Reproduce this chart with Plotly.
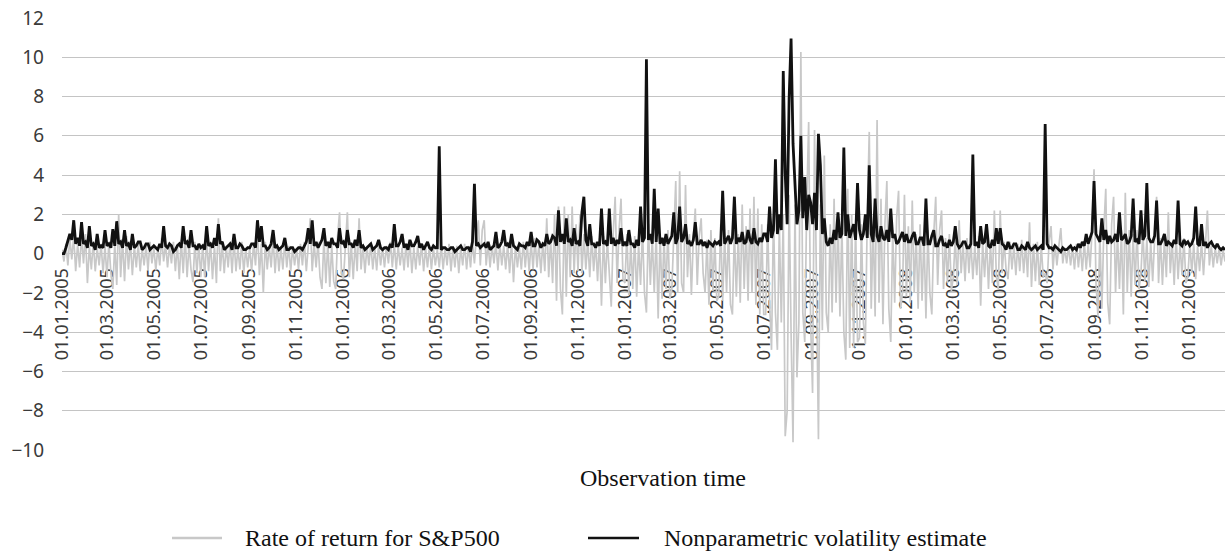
import plotly.graph_objects as go
import pandas as pd

tick_labels = ["01.01.2005", "01.03.2005", "01.05.2005", "01.07.2005", "01.09.2005", "01.11.2005",
               "01.01.2006", "01.03.2006", "01.05.2006", "01.07.2006", "01.09.2006", "01.11.2006",
               "01.01.2007", "01.03.2007", "01.05.2007", "01.07.2007", "01.09.2007", "01.11.2007",
               "01.01.2008", "01.03.2008", "01.05.2008", "01.07.2008", "01.09.2008", "01.11.2008",
               "01.01.2009"]

series_names = ["Rate of return for S&P500", "Nonparametric volatility estimate"]
x_title = "Observation time"

start_date = "2005-01-01"
end_date = "2009-02-17"

returns_sp500 = [
    0.2, -0.4, 0.5, -0.6, 0.8, -0.3, 0.9, -0.9, 0.5, -0.7, 0.9, -0.5, 1.0, -1.5, 0.4, -0.8, 0.6, -0.9, 0.3, -0.6, 0.5, -1.0, 0.4, -1.2,
    0.6, -1.0, -1.8, 0.5, -1.6, 2.0, -1.2, 0.7, -1.4, 0.9, -0.8, 0.6, -1.1, 0.4, -0.7, 0.5, -0.9, 0.3, -0.6, 0.4, -0.85, 0.6, -0.5, 0.3,
    -0.85, 0.3, -0.6, 0.8, -0.4, 0.5, -0.7, 0.4, -0.5, 0.6, -0.9, 0.5, -1.3, 0.7, -1.0, 0.9, -1.2, 0.5, -0.8, -1.45, 0.6, -1.0, 0.5, -1.2,
    0.5, -1.2, 0.8, -0.9, 0.6, -1.3, 0.4, -1.5, 1.8, -0.9, 0.5, -1.0, 0.4, -0.7, 0.6, -1.0, 0.7, -0.9, 0.3, -0.8, 0.6, -1.0, 0.3, -0.7,
    0.3, -0.9, 0.5, -0.6, 1.2, -1.1, 0.5, -2.0, 0.6, -0.8, 0.4, -0.7, 0.8, -1.0, 0.5, -0.9, 0.3, -0.8, 0.6, -0.7, 0.4, -0.9, 0.3, -0.6,
    0.3, -0.8, 0.5, -0.6, 0.6, -0.9, 0.4, 1.8, -0.9, 0.5, -0.7, 0.6, -1.2, -1.8, 0.8, -1.5, 0.6, -1.7, 0.4, -1.4, -1.8, 0.9, 2.1, -1.0,
    -1.3, 0.6, 2.1, -1.2, 0.5, -1.3, 0.6, -0.9, 1.8, -0.8, 0.4, -1.0, 0.4, -0.6, 0.5, -0.8, 0.3, -0.85, 0.5, -0.6, 0.3, -0.7, 0.4, -0.5,
    0.6, -0.7, 0.5, -0.8, 0.4, -0.6, 0.3, -0.85, 0.5, -0.7, 0.6, -1.0, 0.3, -0.8, 0.4, -0.6, 0.5, -0.9, 0.3, -0.7, 0.4, -0.8, 0.3, -0.6,
    0.2, -0.7, 0.4, -0.8, 0.3, -0.6, 0.5, -0.9, 0.3, -0.7, 0.4, -1.0, 0.3, -0.6, 0.5, -0.8, 0.4, -0.7, 0.6, -0.5, 0.9, 1.7, -0.6, 1.2,
    1.7, -0.6, 0.5, -0.7, 0.4, -0.5, 0.6, -0.85, 0.5, -0.6, 0.4, -0.8, 0.5, -1.0, 0.6, -1.45, 0.4, -0.7, 0.3, -0.8, 0.6, -0.7, 0.5, -0.9,
    0.6, -0.8, 0.8, -0.7, 0.5, -1.0, 0.6, -0.9, 1.8, -1.2, 0.7, -1.5, 2.0, -2.4, 2.4, -1.8, -3.1, 2.4, -2.2, 2.0, -1.2, 2.4, -1.0, 1.5,
    -0.9, 2.0, -1.0, 1.0, -0.8, 0.7, -1.2, 0.9, -0.9, 0.6, -1.4, 0.8, -2.65, 0.9, -1.5, 0.7, -1.2, -2.7, 1.0, 2.9, -1.5, 1.2, 2.8, -1.3,
    -1.5, 1.0, -2.1, 0.6, -1.8, 0.9, -2.2, 0.5, -1.6, 1.2, -2.0, -3.0, 1.5, -1.6, 0.8, -2.0, 1.1, -3.3, 1.0, -2.3, 0.8, -1.8, 1.2, -2.3,
    -1.8, 1.2, 3.7, -2.0, 4.2, -1.5, -2.0, 3.5, -1.2, 1.0, -2.1, 0.8, 2.3, -1.6, 0.9, 1.8, -1.0, -2.0, 0.7, -2.6, 1.2, -1.9, 0.8, -2.4,
    -2.2, 1.5, -2.4, 0.9, -2.0, 1.2, -2.6, -3.1, 1.2, -2.2, 1.0, -2.5, 2.5, -1.8, 1.4, -2.4, 2.3, -2.0, 2.9, -2.6, 2.3, -3.1, 1.5, -3.1,
    -3.1, 1.5, -2.5, -4.9, 2.0, -3.0, -4.9, 1.5, -3.5, 2.0, -9.3, -8.0, 3.0, -4.0, -9.6, 2.5, -6.3, -3.5, 10.27, -3.0, -4.5, 2.5, 6.7, -3.5,
    -7.1, 6.3, -3.0, -9.45, 2.5, -3.9, 5.0, -3.0, -4.0, 1.5, -3.0, 2.8, -2.5, 1.8, -3.2, 1.5, -4.0, -5.4, 3.3, -4.8, 2.0, -4.8, 1.5, -4.5,
    -4.3, 1.5, -3.5, -4.6, 2.0, 6.2, -2.8, 1.5, -3.2, 6.8, -2.5, 2.8, -3.6, 1.5, 3.7, -2.8, -4.5, 1.2, -2.5, 1.8, 3.2, -2.8, -2.0, 3.0,
    -2.2, 1.4, -2.5, 2.7, -2.0, 1.0, -2.8, 1.5, -2.4, 1.0, -3.3, 1.2, -2.0, -3.1, 1.0, 2.9, -1.6, 1.2, 2.2, -1.8, 0.8, -1.5, 1.0, -1.9,
    -1.2, 0.8, -1.6, 1.7, -1.0, 0.5, -1.4, 0.8, -1.0, 0.6, -1.3, 0.4, -1.1, 0.9, -2.65, 0.6, -1.2, 0.8, -1.8, 0.5, -1.5, 2.2, -1.1, -1.8,
    2.2, -1.0, 0.6, -0.8, -1.3, 0.6, -0.8, 0.4, -1.1, 0.5, -0.9, 0.7, -1.0, 0.5, -1.2, 1.6, -1.7, 0.5, -1.4, 0.6, -1.6, 0.4, -1.2, -1.0,
    -1.5, 0.6, 1.4, -0.8, 0.5, -0.6, 0.4, 1.3, -0.5, 0.3, -0.5, 0.4, -0.6, 0.3, -0.8, 0.5, -0.7, 0.4, -0.9, 0.6, -0.8, 0.5, -0.7, 1.2,
    4.3, -1.5, -3.2, 1.0, -2.8, 1.2, 3.3, -2.5, -3.6, 1.5, 2.9, -2.0, 1.0, -1.8, 1.2, -3.1, 3.1, -2.0, 1.2, -2.2, 1.0, -1.6, 1.2, -1.8,
    -1.0, 1.2, -1.4, 0.8, -1.7, 0.6, -1.4, 1.0, 2.9, -1.5, 0.8, -1.6, 0.7, -1.2, 2.1, -1.0, 0.6, -1.6, 0.9, -1.3, 0.5, -1.1, 0.8, -1.5,
    -1.2, 0.6, -1.0, 0.5, -1.3, 0.4, -0.9, 0.6, -1.1, 0.5, 2.2, -0.6, 0.4, -0.7, 0.3, -0.5, 0.3, -0.6, 0.2, -0.4,
]

volatility = [
    0.0, 0.0, 0.3, 0.6, 1.0, 0.7, 1.7, 0.5, 0.8, 0.4, 1.6, 0.5, 0.6, 0.3, 1.4, 0.4, 0.5, 0.2, 1.0, 0.3, 0.4, 0.3, 1.2, 0.4,
    0.5, 0.3, 1.25, 0.4, 1.65, 0.5, 0.6, 0.3, 1.2, 0.4, 0.5, 0.2, 1.0, 0.3, 0.4, 0.6, 0.6, 0.2, 0.3, 0.5, 0.5, 0.2, 0.3, 0.4,
    0.3, 0.2, 0.5, 0.3, 1.4, 0.4, 0.3, 0.5, 0.4, 0.1, 0.2, 0.4, 0.5, 0.3, 1.4, 0.5, 0.6, 0.3, 1.2, 0.4, 0.4, 0.2, 0.5, 0.3,
    0.4, 0.2, 1.4, 0.4, 0.5, 0.3, 0.8, 0.4, 1.5, 0.5, 0.6, 0.2, 0.3, 0.4, 0.5, 0.2, 1.0, 0.3, 0.3, 0.5, 0.4, 0.2, 0.2, 0.3,
    0.3, 0.5, 0.5, 0.3, 1.7, 0.6, 1.4, 0.4, 0.4, 0.2, 0.3, 0.5, 1.2, 0.3, 0.4, 0.2, 0.3, 0.4, 0.8, 0.2, 0.2, 0.3, 0.3, 0.1,
    0.2, 0.3, 0.3, 0.2, 0.4, 0.6, 1.3, 0.5, 1.7, 0.4, 0.6, 0.3, 0.5, 0.7, 1.3, 0.4, 0.6, 0.3, 0.8, 0.5, 0.5, 0.3, 1.3, 0.5,
    0.6, 0.3, 1.2, 0.5, 0.5, 0.3, 0.7, 0.4, 1.2, 0.3, 0.4, 0.2, 0.3, 0.4, 0.5, 0.2, 0.3, 0.4, 0.7, 0.3, 0.2, 0.3, 0.3, 0.2,
    0.5, 0.3, 1.5, 0.4, 0.4, 0.6, 1.0, 0.3, 0.5, 0.2, 0.7, 0.4, 0.4, 0.6, 0.9, 0.3, 0.5, 0.2, 0.4, 0.6, 0.3, 0.2, 0.4, 0.3,
    0.3, 5.47, 0.2, 0.3, 0.3, 0.2, 0.2, 0.3, 0.3, 0.1, 0.2, 0.3, 0.4, 0.2, 0.2, 0.3, 0.3, 0.1, 0.6, 3.56, 0.4, 0.5, 0.3, 0.4,
    0.5, 0.3, 0.6, 0.2, 0.3, 0.4, 1.1, 0.3, 0.4, 0.6, 1.2, 0.4, 0.5, 0.3, 1.0, 0.4, 0.3, 0.2, 0.5, 0.4, 0.4, 0.3, 0.6, 0.4,
    1.1, 0.4, 0.4, 0.7, 0.6, 0.3, 0.5, 0.4, 1.0, 0.5, 0.6, 0.9, 0.8, 0.4, 2.2, 0.6, 1.0, 0.5, 1.8, 0.6, 0.7, 0.4, 1.3, 0.5,
    0.6, 0.4, 2.1, 2.9, 0.7, 0.4, 1.5, 0.5, 0.5, 0.3, 0.6, 0.4, 2.3, 0.5, 0.6, 0.4, 2.3, 0.5, 0.8, 0.4, 0.7, 0.5, 1.3, 0.4,
    0.6, 0.4, 1.2, 0.5, 0.5, 0.3, 0.7, 0.4, 2.4, 0.6, 0.8, 9.9, 0.7, 1.0, 0.5, 3.3, 0.6, 2.3, 0.5, 0.8, 0.4, 1.0, 0.5, 0.7,
    0.9, 2.1, 0.5, 0.8, 2.4, 0.6, 0.8, 1.5, 0.5, 0.6, 0.4, 0.7, 1.6, 0.5, 0.5, 0.7, 0.4, 0.6, 0.3, 0.6, 0.5, 0.4, 0.6, 0.5,
    0.6, 0.4, 3.2, 0.5, 0.7, 0.9, 0.5, 0.8, 2.9, 0.5, 0.8, 0.6, 1.1, 0.5, 0.6, 1.2, 0.7, 0.5, 1.3, 0.6, 0.5, 0.8, 0.6, 1.0,
    1.0, 0.6, 2.4, 0.8, 1.2, 4.8, 1.0, 2.0, 1.2, 9.3, 4.1, 1.5, 7.9, 10.95, 5.6, 3.8, 1.5, 2.2, 6.0, 1.8, 3.9, 1.2, 3.0, 2.6,
    1.5, 3.1, 1.2, 6.1, 4.5, 1.0, 1.8, 0.6, 0.4, 0.8, 0.5, 1.2, 0.7, 2.1, 0.8, 1.0, 5.4, 0.9, 2.0, 0.8, 1.2, 1.5, 0.7, 3.6,
    1.2, 0.7, 1.0, 2.0, 0.8, 4.5, 1.0, 0.6, 2.8, 0.9, 0.6, 1.4, 0.8, 0.7, 1.2, 0.6, 2.3, 0.8, 1.0, 0.5, 0.6, 0.9, 1.1, 0.6,
    1.0, 0.6, 0.6, 0.9, 1.1, 0.5, 0.5, 0.8, 0.8, 0.4, 2.8, 0.5, 0.5, 0.9, 1.2, 0.4, 0.4, 0.7, 0.9, 0.4, 0.5, 0.3, 0.7, 0.4,
    0.6, 1.4, 0.5, 0.3, 0.4, 0.6, 0.6, 0.3, 0.3, 0.5, 5.05, 0.4, 0.6, 0.3, 1.4, 0.5, 0.6, 1.5, 0.4, 0.3, 0.7, 0.4, 1.3, 0.5,
    1.3, 0.5, 0.4, 0.2, 0.6, 0.3, 0.3, 0.5, 0.5, 0.2, 0.2, 0.4, 0.3, 0.2, 0.6, 0.3, 0.2, 0.3, 0.4, 0.2, 0.3, 0.4, 0.2, 6.6,
    0.5, 0.3, 0.3, 0.2, 0.4, 0.3, 0.2, 0.1, 0.3, 0.2, 0.2, 0.3, 0.4, 0.2, 0.3, 0.2, 0.5, 0.3, 0.6, 0.4, 1.0, 0.5, 0.8, 1.1,
    3.7, 1.0, 0.8, 0.6, 1.8, 0.7, 1.2, 0.5, 0.9, 0.6, 0.7, 1.0, 0.6, 2.1, 0.7, 0.8, 1.0, 0.5, 0.6, 0.9, 2.8, 0.6, 0.7, 0.5,
    2.2, 0.7, 0.9, 3.6, 0.8, 0.6, 0.6, 0.9, 2.7, 0.5, 0.5, 0.7, 1.0, 0.4, 0.6, 0.5, 0.4, 0.7, 0.5, 2.7, 0.5, 0.4, 0.7, 0.5,
    0.6, 0.4, 0.5, 0.8, 2.4, 0.5, 0.4, 1.5, 0.4, 0.6, 0.3, 0.5, 0.6, 0.4, 0.3, 0.5, 0.3, 0.2, 0.3, 0.2,
]

dates_ret = pd.date_range(start_date, end_date, periods=len(returns_sp500))
dates_vol = pd.date_range(start_date, end_date, periods=len(volatility))
tick_vals = pd.to_datetime(tick_labels, format="%d.%m.%Y")

ret_color = "#c8c8c8"
vol_color = "#111111"

fig = go.Figure()
fig.add_trace(go.Scatter(
    x=dates_ret, y=returns_sp500, mode="lines", name=series_names[0],
    line=dict(color=ret_color, width=1.7), showlegend=False,
))
fig.add_trace(go.Scatter(
    x=dates_vol, y=volatility, mode="lines", name=series_names[1],
    line=dict(color=vol_color, width=2.8), showlegend=False,
))

y_min, y_max = -10, 12
W, H = 1225, 556
ML, MR, MT, MB = 62, 0, 18, 106
PW, PH = W - ML - MR, H - MT - MB


def px_x(px):
    return (px - ML) / PW


def px_y(py):
    return (H - MB - py) / PH


legend_font = dict(family="Liberation Serif", size=24, color="#111111")
legend_y = 538
shapes = [
    dict(type="line", xref="paper", yref="paper", x0=px_x(172), x1=px_x(222),
         y0=px_y(legend_y), y1=px_y(legend_y), line=dict(color=ret_color, width=2.5)),
    dict(type="line", xref="paper", yref="paper", x0=px_x(588), x1=px_x(639),
         y0=px_y(legend_y), y1=px_y(legend_y), line=dict(color=vol_color, width=2.5)),
]
annotations = [
    dict(text=series_names[0], xref="paper", yref="paper", x=px_x(243), y=px_y(legend_y),
         xanchor="left", yanchor="middle", showarrow=False, font=legend_font),
    dict(text=series_names[1], xref="paper", yref="paper", x=px_x(662), y=px_y(legend_y),
         xanchor="left", yanchor="middle", showarrow=False, font=legend_font),
    dict(text=x_title, xref="paper", yref="paper", x=px_x(663), y=px_y(478),
         xanchor="center", yanchor="middle", showarrow=False, font=legend_font),
]

fig.update_layout(
    width=W, height=H,
    margin=dict(l=ML, r=MR, t=MT, b=MB),
    plot_bgcolor="white", paper_bgcolor="white",
    showlegend=False,
    shapes=shapes,
    annotations=annotations,
    xaxis=dict(
        type="date",
        range=[start_date, end_date],
        tickvals=tick_vals, ticktext=tick_labels,
        tickangle=-90,
        anchor="free",
        position=(0 - y_min) / (y_max - y_min),
        showgrid=False, showline=False, zeroline=False,
        ticks="",
        ticklabelstandoff=10,
        layer="below traces",
        tickfont=dict(family="Noto Sans", size=18, color="#3a3a3a"),
    ),
    yaxis=dict(
        range=[y_min, y_max], dtick=2,
        showgrid=True, gridcolor="#c4c4c4", gridwidth=1,
        zeroline=True, zerolinecolor="#c4c4c4", zerolinewidth=1,
        showline=False, ticks="",
        ticklabelstandoff=17,
        tickfont=dict(family="Noto Sans", size=19, color="#3a3a3a"),
    ),
)

fig.write_html("out.html")
